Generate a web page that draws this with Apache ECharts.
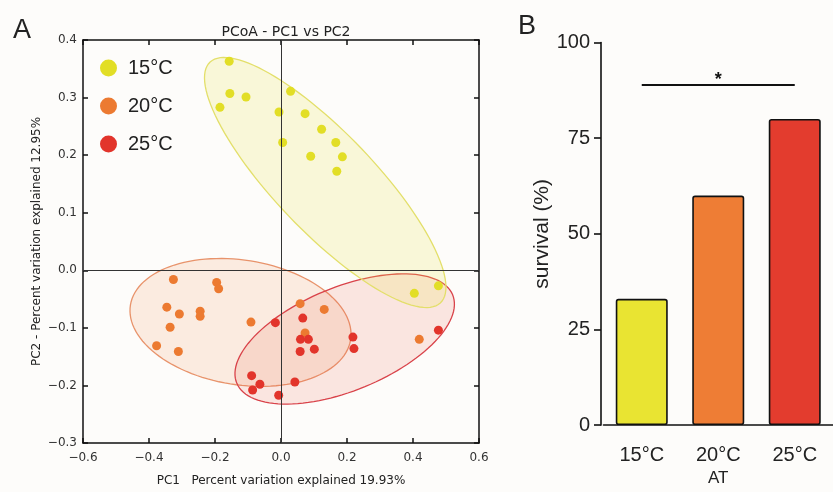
<!DOCTYPE html>
<html>
<head>
<meta charset="utf-8">
<script src="https://cdn.jsdelivr.net/npm/echarts@6/dist/echarts.min.js"></script>
<style>
html,body{margin:0;padding:0;background:#fdfcfa;}
#c{width:833px;height:492px;}
</style>
</head>
<body>
<div id="c"></div>
<script>
// ---------- Panel A data (PC1, PC2) ----------
const groupNames = ['15°C', '20°C', '25°C'];
const pc15 = [
  [-0.157, 0.363], [-0.155, 0.307], [-0.106, 0.301], [-0.185, 0.283], [-0.006, 0.275],
  [0.029, 0.311], [0.073, 0.272], [0.123, 0.245], [0.005, 0.222], [0.166, 0.222],
  [0.090, 0.198], [0.186, 0.197], [0.169, 0.172], [0.404, -0.040], [0.477, -0.027]
];
const pc20 = [
  [-0.326, -0.016], [-0.195, -0.021], [-0.189, -0.032], [-0.346, -0.064], [-0.308, -0.076],
  [-0.245, -0.071], [-0.245, -0.080], [-0.336, -0.099], [-0.091, -0.090], [-0.377, -0.131],
  [-0.311, -0.141], [0.058, -0.058], [0.131, -0.068], [0.073, -0.109], [0.419, -0.120]
];
const pc25 = [
  [-0.017, -0.091], [0.066, -0.083], [0.059, -0.120], [0.083, -0.120], [0.058, -0.141],
  [0.101, -0.137], [0.218, -0.116], [0.221, -0.136], [-0.089, -0.183], [-0.064, -0.198],
  [-0.086, -0.208], [0.042, -0.194], [-0.007, -0.217], [0.477, -0.104]
];
// confidence ellipses: [centerX, centerY, axis1X, axis1Y, axis2X, axis2Y] in data units
const ell15 = [0.134, 0.1525, 0.3488, -0.2092, -0.1103, -0.0585];
const ell20 = [-0.1227, -0.0906, 0.3335, -0.0305, -0.0307, -0.1068];
const ell25 = [0.193, -0.1193, 0.3268, 0.0771, 0.0614, -0.0828];

// ---------- Panel B data ----------
const temps = ['15°C', '20°C', '25°C'];
const survival = [33, 60, 80];
const sigLevel = 89;

const pointColors = ['#e2de26', '#ec7a31', '#e2342b'];
const ellStroke = ['#e3df6a', '#e8936b', '#d9434a'];
const ellFill = ['rgba(236,230,80,0.2)', 'rgba(240,140,80,0.15)', 'rgba(235,100,80,0.15)'];
const barColors = ['#e9e432', '#ee7d35', '#e33c2e'];

const fmtA = v => { let r = Math.round(v * 10) / 10; if (Math.abs(r) < 1e-9) r = 0; return r.toFixed(1).replace('-', '\u2212'); };
const sans = '"DejaVu Sans", sans-serif';
const arial = '"Liberation Sans", Arial, sans-serif';

function ellipseSeries(d, i) {
  return {
    type: 'custom', name: 'ell' + i, xAxisIndex: 0, yAxisIndex: 0, silent: true, z: 1,
    dimensions: ['cx', 'cy', 'ux', 'uy', 'vx', 'vy'],
    encode: { x: 0, y: 1 },
    data: [d],
    clip: true,
    renderItem: function (params, api) {
      const cx = api.value(0), cy = api.value(1), ux = api.value(2), uy = api.value(3), vx = api.value(4), vy = api.value(5);
      const pts = [];
      for (let k = 0; k < 120; k++) {
        const t = k / 120 * Math.PI * 2;
        pts.push(api.coord([cx + ux * Math.cos(t) + vx * Math.sin(t), cy + uy * Math.cos(t) + vy * Math.sin(t)]));
      }
      return { type: 'polygon', shape: { points: pts }, style: { fill: ellFill[i], stroke: ellStroke[i], lineWidth: 1.3 } };
    }
  };
}

const chart = echarts.init(document.getElementById('c'), null, { renderer: 'canvas' });
const option = {
  backgroundColor: '#fdfcfa',
  animation: false,
  title: [
    { text: 'PCoA - PC1 vs PC2', left: 281, top: 20, textAlign: 'center',
      textStyle: { fontFamily: sans, fontSize: 14, fontWeight: 'normal', color: '#222' } },
    { text: 'A', left: 8, top: 12, textStyle: { fontFamily: arial, fontSize: 27, fontWeight: 'normal', color: '#222' } },
    { text: 'B', left: 513, top: 8, textStyle: { fontFamily: arial, fontSize: 27, fontWeight: 'normal', color: '#222' } }
  ],
  legend: {
    data: groupNames, orient: 'vertical', left: 95, top: 53, itemWidth: 17, itemHeight: 17, itemGap: 18,
    icon: 'circle', selectedMode: false,
    textStyle: { fontFamily: arial, fontSize: 20, color: '#222', padding: [0, 0, 0, 6] }
  },
  grid: [
    { left: 83, top: 40, width: 396, height: 409.5, show: false },
    { left: 603.5, top: 42.5, width: 233, height: 391, show: false }
  ],
  xAxis: [
    { gridIndex: 0, type: 'value', min: -0.6, max: 0.6, interval: 0.2, position: 'bottom',
      name: 'PC1   Percent variation explained 19.93%', nameLocation: 'middle', nameGap: 32,
      nameTextStyle: { fontFamily: sans, fontSize: 12, color: '#222' },
      axisLine: { onZero: false, lineStyle: { color: '#111', width: 1.5 } },
      axisTick: { inside: true, length: 5, lineStyle: { color: '#111', width: 1.5 } },
      axisLabel: { formatter: fmtA, fontFamily: sans, fontSize: 12, color: '#333', margin: 9 },
      splitLine: { show: false } },
    { gridIndex: 0, type: 'value', min: -0.6, max: 0.6, interval: 0.2, position: 'top',
      axisLine: { onZero: false, lineStyle: { color: '#111', width: 1.5 } },
      axisTick: { inside: true, length: 5, lineStyle: { color: '#111', width: 1.5 } },
      axisLabel: { show: false }, splitLine: { show: false } },
    { gridIndex: 1, type: 'category', data: temps, position: 'bottom',
      name: 'AT', nameLocation: 'middle', nameGap: 43,
      nameTextStyle: { fontFamily: arial, fontSize: 17, color: '#222' },
      axisLine: { lineStyle: { color: '#111', width: 1.6 } },
      axisTick: { alignWithLabel: true, length: 8, lineStyle: { color: '#111', width: 1.6 } },
      axisLabel: { fontFamily: arial, fontSize: 20, color: '#222', margin: 20 } }
  ],
  yAxis: [
    { gridIndex: 0, type: 'value', min: -0.3, max: 0.4, interval: 0.1, position: 'left',
      name: 'PC2 - Percent variation explained 12.95%', nameLocation: 'middle', nameGap: 40,
      nameTextStyle: { fontFamily: sans, fontSize: 12, color: '#222' },
      axisLine: { onZero: false, lineStyle: { color: '#111', width: 1.5 } },
      axisTick: { inside: true, length: 5, lineStyle: { color: '#111', width: 1.5 } },
      axisLabel: { formatter: fmtA, fontFamily: sans, fontSize: 12, color: '#333', margin: 6 },
      splitLine: { show: false } },
    { gridIndex: 0, type: 'value', min: -0.3, max: 0.4, interval: 0.1, position: 'right',
      axisLine: { onZero: false, lineStyle: { color: '#111', width: 1.5 } },
      axisTick: { inside: true, length: 5, lineStyle: { color: '#111', width: 1.5 } },
      axisLabel: { show: false }, splitLine: { show: false } },
    { gridIndex: 1, type: 'value', min: 0, max: 100, interval: 25, offset: 2.5,
      name: 'survival (%)', nameLocation: 'middle', nameGap: 46,
      nameTextStyle: { fontFamily: arial, fontSize: 21, color: '#222' },
      axisLine: { show: true, lineStyle: { color: '#111', width: 1.6 } },
      axisTick: { show: true, length: 7, lineStyle: { color: '#111', width: 1.6 } },
      axisLabel: { fontFamily: arial, fontSize: 20, color: '#222', margin: 11 },
      splitLine: { show: false } }
  ],
  series: [
    ellipseSeries(ell20, 1),
    ellipseSeries(ell25, 2),
    ellipseSeries(ell15, 0),
    { type: 'scatter', name: groupNames[0], xAxisIndex: 0, yAxisIndex: 0, data: pc15, symbolSize: 9, z: 3,
      itemStyle: { color: pointColors[0], opacity: 1 },
      markLine: { silent: true, symbol: ['none', 'none'], label: { show: false },
        lineStyle: { color: '#333', width: 1, type: 'solid' },
        data: [{ xAxis: 0 }, { yAxis: 0 }] } },
    { type: 'scatter', name: groupNames[1], xAxisIndex: 0, yAxisIndex: 0, data: pc20, symbolSize: 9, z: 3,
      itemStyle: { color: pointColors[1], opacity: 1 } },
    { type: 'scatter', name: groupNames[2], xAxisIndex: 0, yAxisIndex: 0, data: pc25, symbolSize: 9, z: 3,
      itemStyle: { color: pointColors[2], opacity: 1 } },
    { type: 'bar', xAxisIndex: 2, yAxisIndex: 2, barWidth: 52,
      data: survival.map((v, i) => ({ value: v, itemStyle: { color: barColors[i] } })),
      itemStyle: { borderColor: '#111', borderWidth: 1.6, borderRadius: 2 },
      markLine: { silent: true, symbol: ['none', 'none'],
        lineStyle: { color: '#111', width: 1.8, type: 'solid' },
        label: { show: true, position: 'middle', formatter: '*', fontSize: 18, fontWeight: 'bold', color: '#111', distance: -4 },
        data: [[{ coord: [temps[0], sigLevel] }, { coord: [temps[2], sigLevel] }]] } }
  ]
};
chart.setOption(option);
</script>
</body>
</html>
